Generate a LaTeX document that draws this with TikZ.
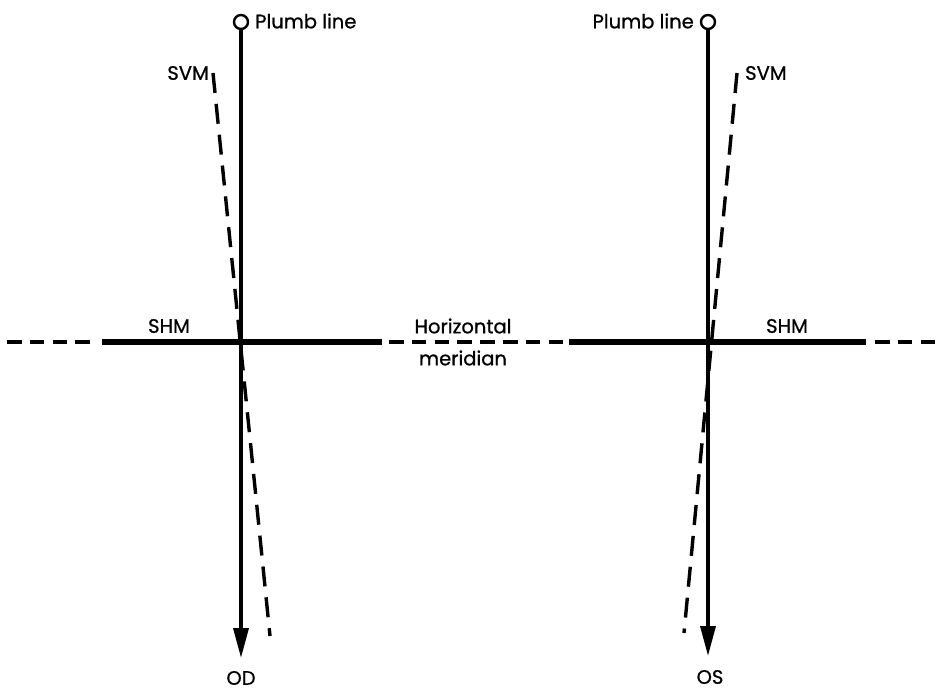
\documentclass[tikz,border=0pt]{standalone}
\usepackage{fontspec}
\setmainfont{Poppins}
\newfontfamily\lblfont{Poppins}[FakeBold=0.8]
\usetikzlibrary{arrows.meta}
\begin{document}
\begin{tikzpicture}[x=1pt,y=-1pt,
  lbl/.style={font=\lblfont\fontsize{19.5}{22}\selectfont, inner sep=0pt},
  plumb/.style={line width=3.6pt},
  shm/.style={line width=6.5pt},
  hmdash/.style={line width=4pt, dash pattern=on 14.5pt off 8.3pt},
  svmdash/.style={line width=3.4pt, dash pattern=on 20pt off 11pt},
  ring/.style={circle, draw, line width=2.4pt, minimum size=14pt, inner sep=0pt},
  tip/.style={-{Triangle[length=30pt,width=15pt]}}]
\useasboundingbox (0,0) rectangle (942,692);
% left eye
\node[ring] (lc) at (241,22) {};
\coordinate (lbot) at (241,658);
\draw[plumb,tip] (lc.south) -- (lbot);
\coordinate (lsvmT) at (213,73);
\coordinate (lsvmB) at (270,636);
\draw[svmdash] (lsvmT) -- (lsvmB);
% right eye
\node[ring] (rc) at (708,22) {};
\coordinate (rbot) at (708,656);
\draw[plumb,tip] (rc.south) -- (rbot);
\coordinate (rsvmT) at (737,73);
\coordinate (rsvmB) at (684,633);
\draw[svmdash] (rsvmT) -- (rsvmB);
% horizontal meridian
\coordinate (h0) at (7,342);
\coordinate (h1) at (92,342);
\coordinate (h2) at (102,342);
\coordinate (h3) at (382,342);
\coordinate (h4) at (389,342);
\coordinate (h5) at (563,342);
\coordinate (h6) at (569,342);
\coordinate (h7) at (866,342);
\coordinate (h8) at (875,342);
\coordinate (h9) at (942,342);
\draw[hmdash] (h0) -- (h1);
\draw[shm] (h2) -- (h3);
\draw[hmdash] (h4) -- (h5);
\draw[shm] (h6) -- (h7);
\draw[hmdash] (h8) -- (h9);
% labels
\node[lbl, anchor=west] (lpl) at (255,21) {Plumb line};
\node[lbl, anchor=east] (rpl) at (694,21) {Plumb line};
\node[lbl, anchor=east] (lsvm) at (209,73) {SVM};
\node[lbl, anchor=west] (rsvm) at (745,73) {SVM};
\node[lbl] (lshm) at (169,326) {SHM};
\node[lbl] (rshm) at (787,326) {SHM};
\node[lbl] (hz) at (463,326) {Horizontal};
\node[lbl] (mer) at (463,358) {meridian};
\node[lbl] (od) at (241,678) {OD};
\node[lbl] (os) at (710,677) {OS};
\end{tikzpicture}
\end{document}
